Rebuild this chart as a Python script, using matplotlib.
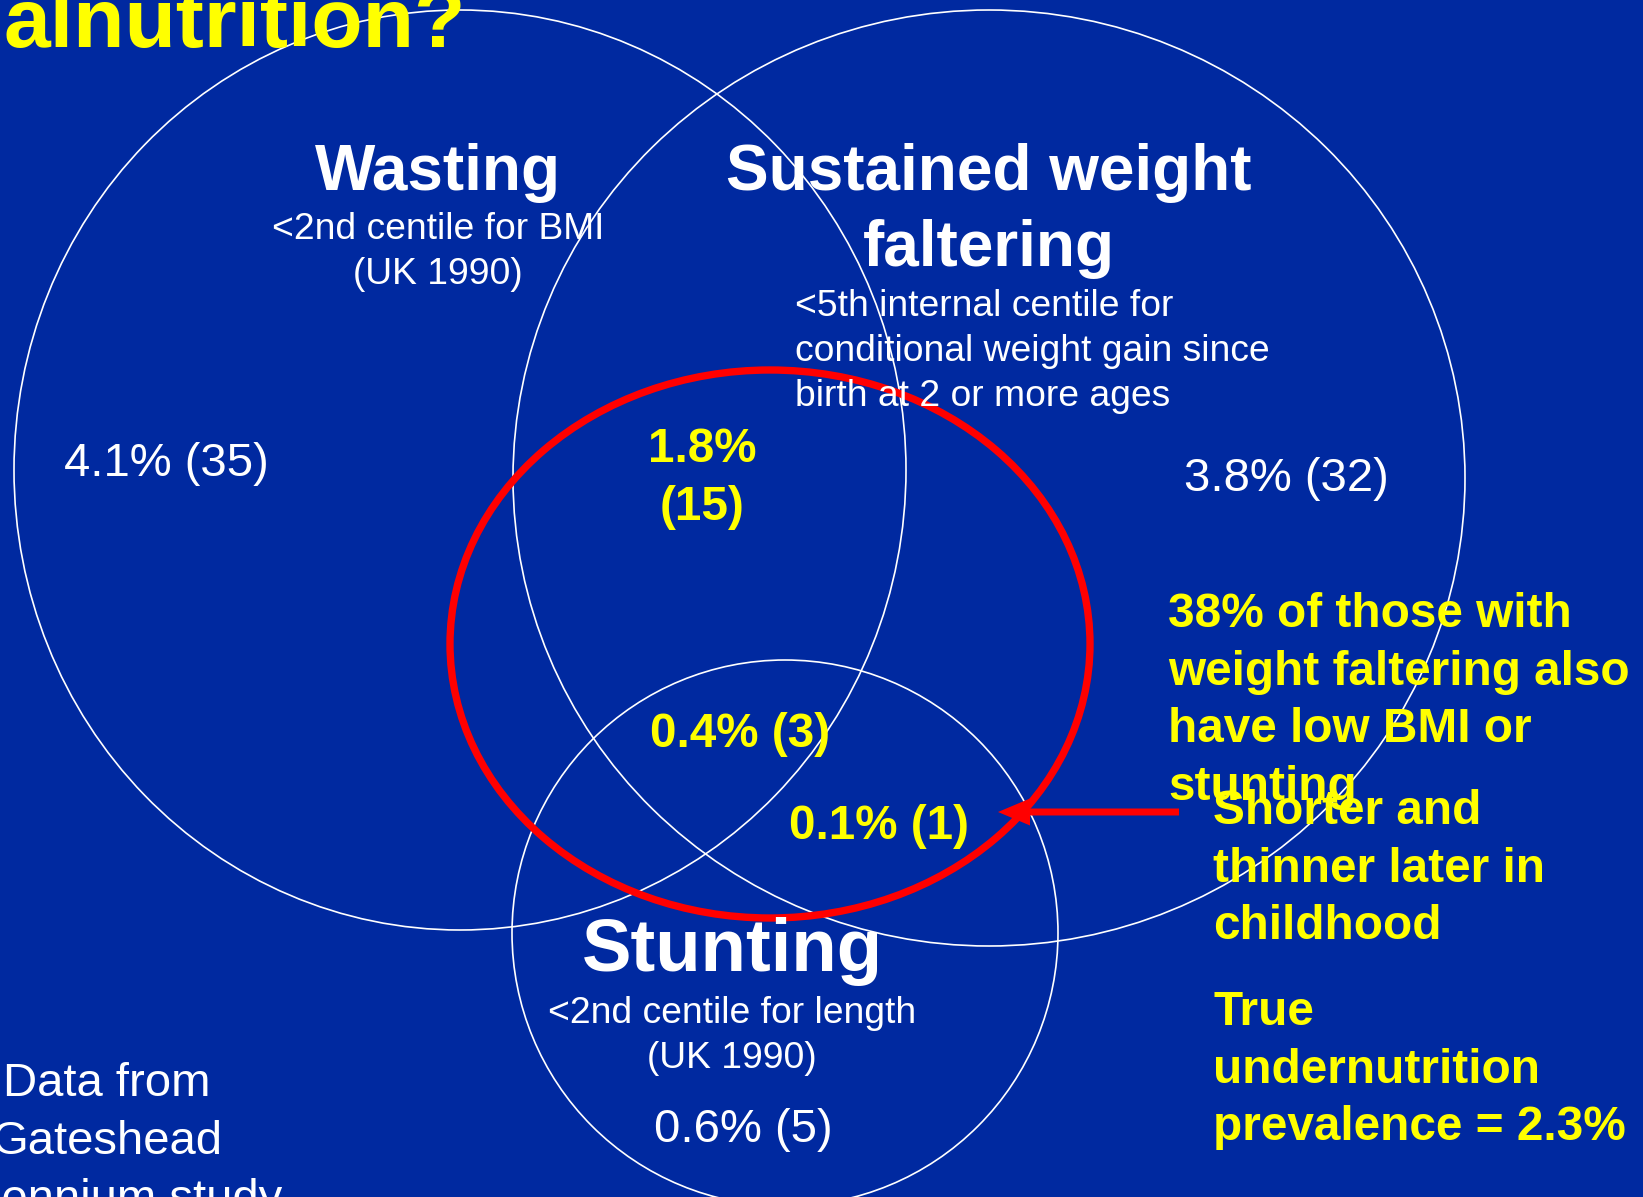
import matplotlib.pyplot as plt
from matplotlib.patches import Ellipse, FancyArrow

plt.rcParams['font.family'] = ['Liberation Sans', 'DejaVu Sans']

BG = '#0029A0'
YEL = '#FFFF00'

# sets of the Venn diagram
set_names = ['Wasting', 'Sustained weight', 'Stunting']
set_defs = [['<2nd centile for BMI', '(UK 1990)'],
            ['<5th internal centile for', 'conditional weight gain since', 'birth at 2 or more ages'],
            ['<2nd centile for length', '(UK 1990)']]

# region values: percent and count
only_pct = [4.1, 3.8, 0.6]          # wasting only, faltering only, stunting only
only_n = [35, 32, 5]
overlap_pct = [1.8, 0.4, 0.1]       # wast+falt, all three, falt+stunt
overlap_n = [15, 3, 1]

notes_1 = ['38% of those with', 'weight faltering also', 'have low BMI or', 'stunting']
notes_2 = ['Shorter and', 'thinner later in', 'childhood']
notes_3 = ['True', 'undernutrition', 'prevalence = 2.3%']
source = ['Data from', 'Gateshead', 'Millennium study']

# layout in pixel units (figure is 1643 x 1197)
centres = [(460, 470), (989, 478), (785, 933)]
sizes = [(892, 920), (952, 936), (546, 546)]

fig = plt.figure(figsize=(16.43, 11.97), dpi=100)
fig.patch.set_facecolor(BG)
ax = fig.add_axes([0, 0, 1, 1])
ax.set_facecolor(BG)
ax.set_xlim(0, 1643)
ax.set_ylim(1197, 0)
ax.axis('off')

for (cx, cy), (w, h) in zip(centres, sizes):
    ax.add_patch(Ellipse((cx, cy), w, h, fill=False, ec='white', lw=1.2))

# red highlight ellipse and arrow
ax.add_patch(Ellipse((770, 644), 640, 548, fill=False, ec='red', lw=5.3))
ax.add_patch(FancyArrow(1179, 812, -181, 0, width=7, head_width=27, head_length=32,
                        length_includes_head=True, color='red', lw=0))

# title (cut at the top of the slide)
ax.text(4, 47, 'alnutrition?', color=YEL, fontsize=60.5, fontweight='bold', ha='left', va='baseline')

# set titles
ax.text(438, 190, set_names[0], color='white', fontsize=46, fontweight='bold', ha='center', va='baseline')
ax.text(989, 190, set_names[1], color='white', fontsize=46, fontweight='bold', ha='center', va='baseline')
ax.text(989, 266, 'faltering', color='white', fontsize=46, fontweight='bold', ha='center', va='baseline')
ax.text(732, 971, set_names[2], color='white', fontsize=53.5, fontweight='bold', ha='center', va='baseline')

for i, line in enumerate(set_defs[0]):
    ax.text(438, 239 + 45 * i, line, color='white', fontsize=26.8, ha='center', va='baseline')
for i, line in enumerate(set_defs[1]):
    ax.text(795, 316 + 45 * i, line, color='white', fontsize=26.8, ha='left', va='baseline')
for i, line in enumerate(set_defs[2]):
    ax.text(732, 1023 + 45 * i, line, color='white', fontsize=26.8, ha='center', va='baseline')

# region values
only_pos = [(166, 476), (1286, 491), (743, 1142)]
for (x, y), p, n in zip(only_pos, only_pct, only_n):
    ax.text(x, y, f'{p}% ({n})', color='white', fontsize=34, ha='center', va='baseline')

ax.text(702, 462, f'{overlap_pct[0]}%', color=YEL, fontsize=34.3, fontweight='bold', ha='center', va='baseline')
ax.text(702, 520, f'({overlap_n[0]})', color=YEL, fontsize=34.3, fontweight='bold', ha='center', va='baseline')
ax.text(740, 747, f'{overlap_pct[1]}% ({overlap_n[1]})', color=YEL, fontsize=34.3, fontweight='bold',
        ha='center', va='baseline')
ax.text(879, 839, f'{overlap_pct[2]}% ({overlap_n[2]})', color=YEL, fontsize=34.3, fontweight='bold',
        ha='center', va='baseline')

# notes on the right
for i, line in enumerate(notes_1):
    ax.text(1168, 627 + 57.6 * i, line, color=YEL, fontsize=34.4, fontweight='bold', ha='left', va='baseline')
for i, line in enumerate(notes_2):
    ax.text(1213, 824 + 57.6 * i, line, color=YEL, fontsize=34.4, fontweight='bold', ha='left', va='baseline')
for i, line in enumerate(notes_3):
    ax.text(1213, 1025 + 57.6 * i, line, color=YEL, fontsize=34.4, fontweight='bold', ha='left', va='baseline')

# source
for i, line in enumerate(source):
    ax.text(107, 1096 + 58 * i, line, color='white', fontsize=34, ha='center', va='baseline')

fig.savefig('out.png', dpi=100, facecolor=BG)
